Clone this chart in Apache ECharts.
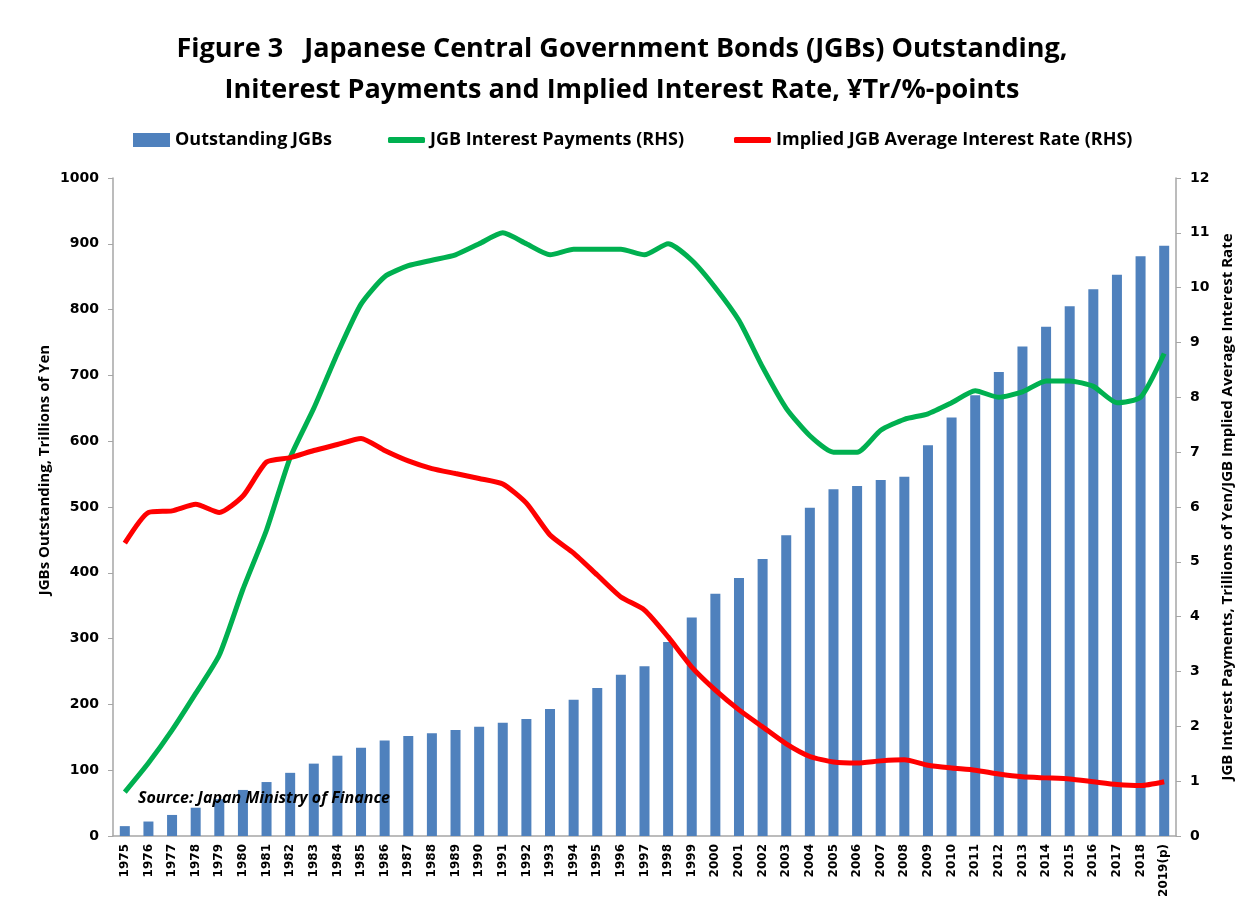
<!DOCTYPE html>
<html>
<head>
<meta charset="utf-8">
<script src="https://cdn.jsdelivr.net/npm/echarts@6/dist/echarts.min.js"></script>
<style>
html,body{margin:0;padding:0;background:#fff;}
#chart{width:1244px;height:912px;}
</style>
</head>
<body>
<div id="chart"></div>
<script>
const years = ['1975','1976','1977','1978','1979','1980','1981','1982','1983','1984','1985','1986','1987','1988','1989','1990','1991','1992','1993','1994','1995','1996','1997','1998','1999','2000','2001','2002','2003','2004','2005','2006','2007','2008','2009','2010','2011','2012','2013','2014','2015','2016','2017','2018','2019(p)'];
const outstanding = [15,22,32,43,56,70,82,96,110,122,134,145,152,156,161,166,172,178,193,207,225,245,258,295,332,368,392,421,457,499,527,532,541,546,594,636,670,705,744,774,805,831,853,881,897];
const interestPayments = [0.8,1.33,1.93,2.6,3.3,4.5,5.58,6.9,7.8,8.8,9.7,10.2,10.4,10.5,10.6,10.8,11.0,10.8,10.6,10.7,10.7,10.7,10.6,10.8,10.5,10.0,9.4,8.55,7.8,7.3,7.0,7.0,7.4,7.6,7.7,7.9,8.12,8.0,8.1,8.3,8.3,8.2,7.9,8.0,8.8];
const impliedRate = [5.34,5.9,5.93,6.05,5.9,6.2,6.82,6.9,7.03,7.14,7.25,7.03,6.84,6.7,6.61,6.52,6.42,6.07,5.49,5.16,4.76,4.36,4.12,3.63,3.08,2.66,2.3,1.99,1.68,1.45,1.35,1.33,1.37,1.39,1.29,1.24,1.2,1.13,1.08,1.06,1.04,0.99,0.94,0.92,0.99];

const narrow = "'Open Sans',sans-serif";
const wide = "'DejaVu Sans',Verdana,sans-serif";
const legendText = {fontFamily: narrow, fontWeight: 'bold', fontSize: 18, color: '#000'};

const chart = echarts.init(document.getElementById('chart'));
chart.setOption({
  animation: false,
  backgroundColor: '#fff',
  title: {
    text: 'Figure 3   Japanese Central Government Bonds (JGBs) Outstanding,\nIniterest Payments and Implied Interest Rate, ¥Tr/%-points',
    left: 'center', top: 24,
    textStyle: {fontFamily: narrow, fontWeight: 'bold', fontSize: 27, lineHeight: 41, color: '#000'}
  },
  legend: [
    {
      left: 128, top: 126, itemWidth: 37, itemHeight: 14,
      textStyle: legendText,
      data: [{name: 'Outstanding JGBs', icon: 'rect'}]
    },
    {
      left: 383, top: 126, itemGap: 50, itemWidth: 37, itemHeight: 6,
      textStyle: legendText,
      data: [
        {name: 'JGB Interest Payments (RHS)', icon: 'roundRect'},
        {name: 'Implied JGB Average Interest Rate (RHS)', icon: 'roundRect'}
      ]
    }
  ],
  grid: {left: 113, right: 68, top: 178, bottom: 76},
  xAxis: {
    type: 'category', data: years, boundaryGap: true,
    axisLine: {lineStyle: {color: '#a6a6a6', width: 1.5}},
    axisTick: {interval: 0, length: 6, lineStyle: {color: '#a6a6a6'}},
    axisLabel: {interval: 0, rotate: 90, fontFamily: wide, fontWeight: 'bold', fontSize: 12, color: '#000', margin: 8}
  },
  yAxis: [
    {
      type: 'value', min: 0, max: 1000, interval: 100,
      axisLine: {show: true, lineStyle: {color: '#a6a6a6', width: 1.5}},
      axisTick: {show: true, length: 5, lineStyle: {color: '#a6a6a6'}},
      splitLine: {show: false},
      axisLabel: {formatter: v => String(v), fontFamily: wide, fontWeight: 'bold', fontSize: 14, color: '#000', margin: 14}
    },
    {
      type: 'value', min: 0, max: 12, interval: 1, position: 'right',
      axisLine: {show: true, lineStyle: {color: '#a6a6a6', width: 1.5}},
      axisTick: {show: true, length: 5, lineStyle: {color: '#a6a6a6'}},
      splitLine: {show: false},
      axisLabel: {fontFamily: wide, fontWeight: 'bold', fontSize: 14, color: '#000', margin: 14}
    }
  ],
  graphic: [
    {type: 'text', x: 45, y: 470, rotation: Math.PI/2, z: 100,
     style: {text: 'JGBs Outstanding, Trillions of Yen', font: "bold 15px 'Open Sans',sans-serif", fill: '#000', align: 'center', verticalAlign: 'middle'}},
    {type: 'text', x: 138, y: 798, z: 100,
     style: {text: 'Source: Japan Ministry of Finance', font: "italic bold 16px 'Open Sans',sans-serif", fill: '#000', verticalAlign: 'middle'}},
    {type: 'text', x: 1228, y: 507, rotation: Math.PI/2, z: 100,
     style: {text: 'JGB Interest Payments, Trillions of Yen/JGB Implied Average Interest Rate', font: "bold 15px 'Open Sans',sans-serif", fill: '#000', align: 'center', verticalAlign: 'middle'}}
  ],
  series: [
    {name: 'Outstanding JGBs', type: 'bar', data: outstanding, yAxisIndex: 0, barWidth: 10, itemStyle: {color: '#4F81BD'}, z: 1},
    {name: 'JGB Interest Payments (RHS)', type: 'line', data: interestPayments, yAxisIndex: 1, smooth: 0.2, symbol: 'none', lineStyle: {color: '#00B050', width: 5}, itemStyle: {color: '#00B050'}, z: 3},
    {name: 'Implied JGB Average Interest Rate (RHS)', type: 'line', data: impliedRate, yAxisIndex: 1, smooth: 0.2, symbol: 'none', lineStyle: {color: '#FF0000', width: 5}, itemStyle: {color: '#FF0000'}, z: 4}
  ]
});
</script>
</body>
</html>
